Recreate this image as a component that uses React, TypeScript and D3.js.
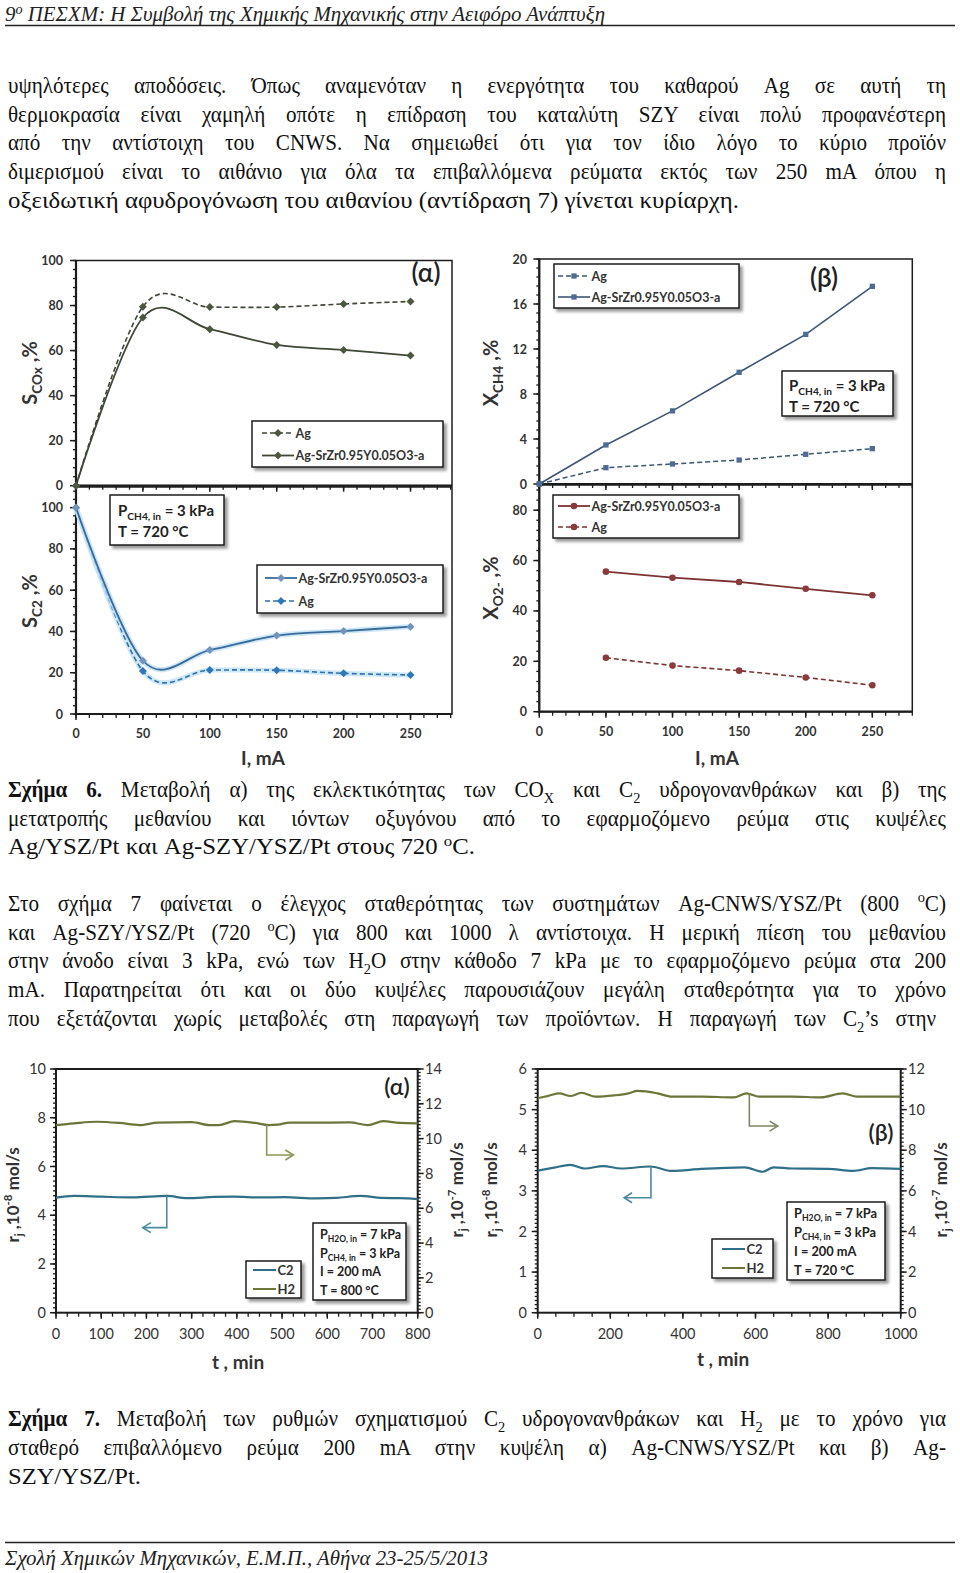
import React, { useEffect, useRef } from 'react';
import * as d3 from 'd3';

const SERIF = '"Liberation Serif", "Times New Roman", Times, serif';
const SANS = 'Lato, "Noto Sans", "Open Sans", sans-serif';
const INK = '#1c1c1c';
const SX = 0.92; // horizontal condensing of the body text
const BODY_FS = 23;

/* ---------------- Figure 6 data ---------------- */
const currents = [0, 50, 100, 150, 200, 250];
const sCOxAg = [0, 79.5, 79.3, 79.3, 80.7, 81.8];
const sCOxSZY = [0, 74.7, 69.5, 62.5, 60.3, 57.8];
const sC2SZY = [100, 25.8, 31.0, 38.0, 40.2, 42.3];
const sC2Ag = [100, 20.8, 21.3, 21.2, 19.7, 18.9];
const xCH4Ag = [0, 1.45, 1.78, 2.13, 2.64, 3.14];
const xCH4SZY = [0, 3.47, 6.5, 9.93, 13.3, 17.57];
const currentsO2 = [50, 100, 150, 200, 250];
const xO2SZY = [55.6, 53.2, 51.5, 48.8, 46.2];
const xO2Ag = [21.4, 18.3, 16.3, 13.6, 10.5];

const currentTicks = [0, 50, 100, 150, 200, 250];
const sTicks = [0, 20, 40, 60, 80, 100];
const xCH4Ticks = [0, 4, 8, 12, 16, 20];
const xO2Ticks = [0, 20, 40, 60, 80];

/* ---------------- Figure 7 data ---------------- */
const tA_H2 = [0, 40, 90, 140, 185, 225, 300, 340, 360, 395, 440, 470, 490, 517, 580, 650, 690, 724, 760, 800];
const h2A = [10.78, 10.88, 10.97, 10.9, 10.78, 10.92, 10.95, 10.78, 10.78, 11.0, 10.9, 10.78, 10.8, 10.92, 10.92, 10.93, 10.78, 11.0, 10.9, 10.88];
const tA_C2 = [0, 40, 100, 170, 245, 290, 350, 395, 450, 505, 577, 620, 673, 720, 760, 800];
const c2A = [4.72, 4.79, 4.76, 4.73, 4.79, 4.7, 4.75, 4.76, 4.73, 4.74, 4.69, 4.71, 4.79, 4.71, 4.7, 4.66];

const tB_H2 = [0, 30, 60, 90, 120, 160, 210, 250, 275, 330, 370, 450, 540, 575, 610, 700, 780, 840, 880, 940, 1000];
const h2B = [10.56, 10.68, 10.8, 10.67, 10.83, 10.64, 10.7, 10.8, 10.92, 10.8, 10.64, 10.64, 10.6, 10.8, 10.64, 10.64, 10.6, 10.8, 10.64, 10.64, 10.64];
const tB_C2 = [0, 45, 90, 130, 180, 230, 310, 370, 450, 570, 620, 650, 700, 800, 870, 920, 1000];
const c2B = [3.5, 3.57, 3.64, 3.55, 3.61, 3.55, 3.6, 3.49, 3.54, 3.58, 3.47, 3.58, 3.55, 3.54, 3.49, 3.56, 3.54];

const tTicksA = [0, 100, 200, 300, 400, 500, 600, 700, 800];
const rTicksA = [0, 2, 4, 6, 8, 10];
const rRightTicksA = [0, 2, 4, 6, 8, 10, 12, 14];
const tTicksB = [0, 200, 400, 600, 800, 1000];
const rTicksB = [0, 1, 2, 3, 4, 5, 6];
const rRightTicksB = [0, 2, 4, 6, 8, 10, 12];

// arrow markers (t, start value, bend value, end t)
const arrowsA = { h2: [466, 10.78, 9.06, 525], c2: [245, 4.79, 3.49, 192] };
const arrowsB = { h2: [583, 10.8, 9.19, 661], c2: [312, 3.6, 2.83, 238] };

/* ---------------- Document text ---------------- */
type Part = [string, string?];
type TLine = { parts: Part[]; justify?: boolean; width?: number };

const para1: TLine[] = [
  { parts: [['υψηλότερες αποδόσεις. Όπως αναμενόταν η ενεργότητα του καθαρού Ag σε αυτή τη']], justify: true },
  { parts: [['θερμοκρασία είναι χαμηλή οπότε η επίδραση του καταλύτη SZY είναι πολύ προφανέστερη']], justify: true },
  { parts: [['από την αντίστοιχη του CNWS. Να σημειωθεί ότι για τον ίδιο λόγο το κύριο προϊόν']], justify: true },
  { parts: [['διμερισμού είναι το αιθάνιο για όλα τα επιβαλλόμενα ρεύματα εκτός των 250 mA όπου η']], justify: true },
  { parts: [['οξειδωτική αφυδρογόνωση του αιθανίου (αντίδραση 7) γίνεται κυρίαρχη.']], width: 731 },
];
const caption6: TLine[] = [
  { parts: [['Σχήμα 6.', 'bold'], [' Μεταβολή α) της εκλεκτικότητας των CO'], ['X', 'sub'], [' και C'], ['2', 'sub'], [' υδρογονανθράκων και β) της']], justify: true },
  { parts: [['μετατροπής μεθανίου και ιόντων οξυγόνου από το εφαρμοζόμενο ρεύμα στις κυψέλες']], justify: true },
  { parts: [['Ag/YSZ/Pt και Ag-SZY/YSZ/Pt στους 720 '], ['o', 'sup'], ['C.']], width: 467 },
];
const para2: TLine[] = [
  { parts: [['Στο σχήμα 7 φαίνεται ο έλεγχος σταθερότητας των συστημάτων Ag-CNWS/YSZ/Pt (800 '], ['o', 'sup'], ['C)']], justify: true },
  { parts: [['και Ag-SZY/YSZ/Pt (720 '], ['o', 'sup'], ['C) για 800 και 1000 λ αντίστοιχα. Η μερική πίεση του μεθανίου']], justify: true },
  { parts: [['στην άνοδο είναι 3 kPa, ενώ των H'], ['2', 'sub'], ['O στην κάθοδο 7 kPa με το εφαρμοζόμενο ρεύμα στα 200']], justify: true },
  { parts: [['mA. Παρατηρείται ότι και οι δύο κυψέλες παρουσιάζουν μεγάλη σταθερότητα για το χρόνο']], justify: true },
  { parts: [['που εξετάζονται χωρίς μεταβολές στη παραγωγή των προϊόντων. Η παραγωγή των C'], ['2', 'sub'], ['’s στην']], justify: true, width: 928 },
];
const caption7: TLine[] = [
  { parts: [['Σχήμα 7.', 'bold'], [' Μεταβολή των ρυθμών σχηματισμού C'], ['2', 'sub'], [' υδρογονανθράκων και H'], ['2', 'sub'], [' με το χρόνο για']], justify: true },
  { parts: [['σταθερό επιβαλλόμενο ρεύμα 200 mA στην κυψέλη α) Ag-CNWS/YSZ/Pt και β) Ag-']], justify: true },
  { parts: [['SZY/YSZ/Pt.']], width: 133 },
];

/* ---------------- helpers ---------------- */
function rich(parent: any, x: number, y: number, parts: Part[], fs: number, attrs: Record<string, any> = {}, supK = 0.38) {
  const t = parent.append('text').attr('x', x).attr('y', y).attr('font-size', fs);
  Object.entries(attrs).forEach(([k, v]) => t.attr(k, v));
  let shift = 0;
  parts.forEach(([s, m]) => {
    const ts = t.append('tspan').text(s);
    let target = 0;
    if (m === 'sub') target = fs * 0.25;
    if (m === 'sup') target = -fs * supK;
    if (target !== shift) { ts.attr('dy', target - shift); shift = target; }
    if (m === 'sub' || m === 'sup') ts.attr('font-size', fs * 0.68);
    if (m === 'bold') ts.attr('font-weight', 700);
  });
  return t;
}

function justify(t: any, width: number) {
  const node = t.node() as SVGTextElement;
  const w = node.getComputedTextLength();
  const n = (node.textContent || '').trim().split(/\s+/).length - 1;
  if (w < width && n > 0) t.style('word-spacing', `${(width - w) / n}px`);
  else t.attr('textLength', width).attr('lengthAdjust', 'spacingAndGlyphs');
}
function fit(t: any, width: number) {
  t.attr('textLength', width).attr('lengthAdjust', 'spacingAndGlyphs');
}

function block(svg: any, lines: TLine[], y0: number, step: number) {
  const g = svg.append('g').attr('transform', `scale(${SX},1)`);
  lines.forEach((ln, i) => {
    const t = rich(g, 8 / SX, y0 + i * step, ln.parts, BODY_FS, { 'font-family': SERIF, fill: '#111' });
    if (ln.justify) justify(t, (ln.width ?? 938) / SX);
    else if (ln.width) fit(t, ln.width / SX);
  });
}

function ticksV(g: any, ys: any, x: number, majors: number[], minorStep: number, dir: number) {
  const [d0, d1] = ys.domain();
  const minor = d3.range(d0, d1 + minorStep / 2, minorStep);
  g.append('g').selectAll('line').data(minor).join('line')
    .attr('x1', x).attr('x2', x + dir * 3).attr('y1', (d: number) => ys(d)).attr('y2', (d: number) => ys(d))
    .attr('stroke', INK).attr('stroke-width', 1.3);
  g.append('g').selectAll('line').data(majors).join('line')
    .attr('x1', x).attr('x2', x + dir * 6).attr('y1', (d: number) => ys(d)).attr('y2', (d: number) => ys(d))
    .attr('stroke', INK).attr('stroke-width', 1.5);
}
function ticksH(g: any, xs: any, y: number, majors: number[], minorStep: number, dir: number) {
  const [d0, d1] = xs.domain();
  const minor = d3.range(d0, d1 + minorStep / 2, minorStep);
  g.append('g').selectAll('line').data(minor).join('line')
    .attr('y1', y).attr('y2', y + dir * 4).attr('x1', (d: number) => xs(d)).attr('x2', (d: number) => xs(d))
    .attr('stroke', INK).attr('stroke-width', 1.3);
  g.append('g').selectAll('line').data(majors).join('line')
    .attr('y1', y).attr('y2', y + dir * 6).attr('x1', (d: number) => xs(d)).attr('x2', (d: number) => xs(d))
    .attr('stroke', INK).attr('stroke-width', 1.5);
}
function labelsV(g: any, ys: any, x: number, values: number[], anchor: string, fs: number, weight: number) {
  g.append('g').selectAll('text').data(values).join('text')
    .attr('x', x).attr('y', (d: number) => ys(d)).attr('dy', '0.36em').attr('text-anchor', anchor)
    .attr('font-size', fs).attr('font-weight', weight).attr('fill', '#333').text((d: number) => d);
}
function labelsH(g: any, xs: any, y: number, values: number[], fs: number, weight: number) {
  g.append('g').selectAll('text').data(values).join('text')
    .attr('x', (d: number) => xs(d)).attr('y', y).attr('text-anchor', 'middle')
    .attr('font-size', fs).attr('font-weight', weight).attr('fill', '#333').text((d: number) => d);
}

function panel(g: any, xs: any, ys: any, yMaj: number[], yMinStep: number, xMaj: number[], xMinStep: number,
  xLabY: number | null, yLabX: number, fs = 12.5, weight = 700) {
  const [x0, x1] = xs.range();
  const [yb, yt] = ys.range();
  g.append('rect').attr('x', x0).attr('y', yt).attr('width', x1 - x0).attr('height', yb - yt)
    .attr('fill', 'none').attr('stroke', INK).attr('stroke-width', 1.5);
  g.append('line').attr('x1', x0).attr('x2', x0).attr('y1', yt).attr('y2', yb).attr('stroke', INK).attr('stroke-width', 2.2);
  g.append('line').attr('x1', x0).attr('x2', x1).attr('y1', yb).attr('y2', yb).attr('stroke', INK).attr('stroke-width', 2.2);
  ticksV(g, ys, x0, yMaj, yMinStep, -1);
  ticksH(g, xs, yb, xMaj, xMinStep, 1);
  labelsV(g, ys, yLabX, yMaj, 'end', fs, weight);
  if (xLabY != null) labelsH(g, xs, xLabY, xMaj, fs, weight);
}

interface SOpt { color: string; width?: number; dash?: string; curve?: any; sym?: any; size?: number; mfill?: string; rot?: number; halo?: string }

function series(g: any, xs: any, ys: any, xv: number[], yv: number[], o: SOpt) {
  const pts: [number, number][] = xv.map((x, i) => [x, yv[i]]);
  const line = d3.line<[number, number]>().x(d => xs(d[0])).y(d => ys(d[1])).curve(o.curve || d3.curveLinear);
  if (o.halo) g.append('path').attr('d', line(pts)).attr('fill', 'none').attr('stroke', o.halo)
    .attr('stroke-width', (o.width || 1.5) + 3.5).attr('stroke-linejoin', 'round').attr('opacity', 0.8);
  g.append('path').attr('d', line(pts)).attr('fill', 'none').attr('stroke', o.color)
    .attr('stroke-width', o.width || 1.5).attr('stroke-dasharray', o.dash || null).attr('stroke-linejoin', 'round');
  if (o.sym) g.append('g').selectAll('path').data(pts).join('path')
    .attr('d', d3.symbol(o.sym, o.size || 30)() as string)
    .attr('transform', (d: [number, number]) => `translate(${xs(d[0])},${ys(d[1])}) rotate(${o.rot || 0})`)
    .attr('fill', o.mfill || o.color);
}

function box(g: any, x: number, y: number, w: number, h: number) {
  g.append('rect').attr('x', x).attr('y', y).attr('width', w).attr('height', h)
    .attr('fill', '#fff').attr('stroke', INK).attr('stroke-width', 1.5).attr('filter', 'url(#shadow)');
}
function legendEntry(g: any, x1: number, x2: number, y: number, label: string, o: SOpt, fs = 12.5) {
  g.append('line').attr('x1', x1).attr('x2', x2).attr('y1', y).attr('y2', y).attr('stroke', o.color)
    .attr('stroke-width', o.width || 1.5).attr('stroke-dasharray', o.dash || null);
  if (o.sym) g.append('path').attr('d', d3.symbol(o.sym, o.size || 30)() as string)
    .attr('transform', `translate(${(x1 + x2) / 2},${y}) rotate(${o.rot || 0})`).attr('fill', o.mfill || o.color);
  g.append('text').attr('x', x2 + 1.5).attr('y', y).attr('dy', '0.36em').attr('font-size', fs)
    .attr('font-weight', 700).attr('fill', '#333').text(label);
}
function vTitle(g: any, cx: number, cy: number, parts: Part[], fs: number) {
  const gg = g.append('g').attr('transform', `translate(${cx + fs * 0.35},${cy}) rotate(-90)`);
  rich(gg, 0, 0, parts, fs, { 'text-anchor': 'middle', 'font-weight': 700, fill: '#333' });
}

/* ---------------- Figure 6 ---------------- */
function drawFig6(svg: any) {
  const g = svg.append('g').attr('font-family', SANS);
  const xL = d3.scaleLinear().domain([0, 281]).range([76, 452]);
  const yA = d3.scaleLinear().domain([0, 100]).range([485.7, 260.5]);
  const yB = d3.scaleLinear().domain([0, 110]).range([714, 487]);
  const xR = d3.scaleLinear().domain([0, 280]).range([539.3, 912.3]);
  const yC = d3.scaleLinear().domain([0, 20]).range([484, 259]);
  const yD = d3.scaleLinear().domain([0, 90]).range([711.7, 485]);

  panel(g, xL, yA, sTicks, 4, currentTicks, 10, null, 63);
  panel(g, xL, yB, sTicks, 4, currentTicks, 10, 738, 63);
  panel(g, xR, yC, xCH4Ticks, 0.8, currentTicks, 10, null, 527);
  panel(g, xR, yD, xO2Ticks, 4, currentTicks, 10, 736, 527);

  const smooth = d3.curveCatmullRom.alpha(0);
  const oliveAg: SOpt = { color: '#3e4736', width: 1.6, dash: '5,3', curve: smooth, sym: d3.symbolSquare, size: 32, rot: 45, mfill: '#4b5740' };
  const oliveS: SOpt = { color: '#3e4736', width: 1.8, curve: smooth, sym: d3.symbolSquare, size: 32, rot: 45, mfill: '#4b5740' };
  series(g, xL, yA, currents, sCOxAg, oliveAg);
  series(g, xL, yA, currents, sCOxSZY, oliveS);

  const blueS: SOpt = { color: '#3a6a99', width: 1.8, curve: smooth, sym: d3.symbolSquare, size: 32, rot: 45, mfill: '#7393bd', halo: '#c2e2f5' };
  const blueAg: SOpt = { color: '#2f70ad', width: 1.6, dash: '5,3', curve: smooth, sym: d3.symbolSquare, size: 32, rot: 45, mfill: '#2e77b8', halo: '#c2e2f5' };
  series(g, xL, yB, currents, sC2Ag, blueAg);
  series(g, xL, yB, currents, sC2SZY, blueS);

  const slateAg: SOpt = { color: '#3d5677', width: 1.5, dash: '5,3', sym: d3.symbolSquare, size: 28, mfill: '#4f6b91' };
  const slateS: SOpt = { color: '#3d5677', width: 1.6, sym: d3.symbolSquare, size: 28, mfill: '#4f6b91' };
  series(g, xR, yC, currents, xCH4Ag, slateAg);
  series(g, xR, yC, currents, xCH4SZY, slateS);

  const redS: SOpt = { color: '#7d3232', width: 1.8, sym: d3.symbolCircle, size: 34, mfill: '#8a3a3a' };
  const redAg: SOpt = { color: '#7d3232', width: 1.6, dash: '5,3', sym: d3.symbolCircle, size: 34, mfill: '#8a3a3a' };
  series(g, xR, yD, currentsO2, xO2SZY, redS);
  series(g, xR, yD, currentsO2, xO2Ag, redAg);

  // legends
  box(g, 252, 421, 191, 46);
  legendEntry(g, 262, 294, 433, 'Ag', oliveAg);
  legendEntry(g, 262, 294, 455.5, 'Ag-SrZr0.95Y0.05O3-a', oliveS);

  box(g, 257, 565, 186, 48);
  legendEntry(g, 265, 297, 578, 'Ag-SrZr0.95Y0.05O3-a', blueS);
  legendEntry(g, 265, 297, 601, 'Ag', blueAg);

  box(g, 554, 264, 185, 44);
  legendEntry(g, 558, 590, 276, 'Ag', slateAg);
  legendEntry(g, 558, 590, 297, 'Ag-SrZr0.95Y0.05O3-a', slateS);

  box(g, 553, 495, 186, 43);
  legendEntry(g, 558, 590, 506, 'Ag-SrZr0.95Y0.05O3-a', redS);
  legendEntry(g, 558, 590, 527, 'Ag', redAg);

  // condition boxes
  box(g, 110, 495, 114, 50);
  rich(g, 118, 516, [['P'], ['CH4, in', 'sub'], [' = 3 kPa']], 15, { 'font-weight': 700, fill: '#222' });
  rich(g, 118, 537, [['T = 720 °C']], 15, { 'font-weight': 700, fill: '#222' });
  box(g, 782, 371, 111, 45);
  rich(g, 789, 391, [['P'], ['CH4, in', 'sub'], [' = 3 kPa']], 15, { 'font-weight': 700, fill: '#222' });
  rich(g, 789, 411.5, [['T = 720 °C']], 15, { 'font-weight': 700, fill: '#222' });

  // panel labels
  g.append('text').attr('x', 426).attr('y', 282).attr('text-anchor', 'middle').attr('font-size', 26).attr('font-weight', 600).attr('fill', '#222').text('(α)');
  g.append('text').attr('x', 824).attr('y', 287).attr('text-anchor', 'middle').attr('font-size', 26).attr('font-weight', 600).attr('fill', '#222').text('(β)');

  // axis titles
  vTitle(g, 30, 373, [['S'], ['COx', 'sub'], [' ,%']], 20);
  vTitle(g, 30, 601, [['S'], ['C2', 'sub'], [' ,%']], 20);
  vTitle(g, 491, 373, [['X'], ['CH4', 'sub'], [' ,%']], 20);
  vTitle(g, 491, 588, [['X'], ['O2-', 'sub'], [' ,%']], 20);
  g.append('text').attr('x', 263).attr('y', 765).attr('text-anchor', 'middle').attr('font-size', 19).attr('font-weight', 700).attr('fill', '#333').text('I, mA');
  g.append('text').attr('x', 717).attr('y', 765).attr('text-anchor', 'middle').attr('font-size', 19).attr('font-weight', 700).attr('fill', '#333').text('I, mA');
}

/* ---------------- Figure 7 ---------------- */
function arrow(g: any, xs: any, ys: any, a: number[], color: string) {
  const [t0, v0, v1, t1] = a;
  const x = xs(t0), y1 = ys(v0), y2 = ys(v1), x2 = xs(t1);
  const dir = Math.sign(x2 - x);
  g.append('path').attr('d', `M${x},${y1}V${y2}H${x2}`).attr('fill', 'none').attr('stroke', color).attr('stroke-width', 1.6);
  g.append('path').attr('d', `M${x2 - dir * 8},${y2 - 5}L${x2},${y2}L${x2 - dir * 8},${y2 + 5}`)
    .attr('fill', 'none').attr('stroke', color).attr('stroke-width', 1.6);
}

function fig7Panel(g: any, xs: any, yl: any, yr: any, tMaj: number[], tMin: number, lMaj: number[], lMin: number, rMaj: number[], rMin: number,
  labL: number, labR: number, labY: number) {
  const [x0, x1] = xs.range();
  const [yb, yt] = yl.range();
  g.append('rect').attr('x', x0).attr('y', yt).attr('width', x1 - x0).attr('height', yb - yt)
    .attr('fill', 'none').attr('stroke', INK).attr('stroke-width', 2);
  ticksV(g, yl, x0, lMaj, lMin, -1);
  ticksV(g, yr, x1, rMaj, rMin, 1);
  ticksH(g, xs, yb, tMaj, tMin, 1);
  labelsV(g, yl, labL, lMaj, 'end', 14.5, 400);
  labelsV(g, yr, labR, rMaj, 'start', 14.5, 400);
  labelsH(g, xs, labY, tMaj, 14.5, 400);
}

function drawFig7(svg: any) {
  const g = svg.append('g').attr('font-family', SANS);
  const c2c = '#2f7088', h2c = '#6b763a';
  // (α)
  const xA = d3.scaleLinear().domain([0, 800]).range([56, 417.7]);
  const yAL = d3.scaleLinear().domain([0, 10]).range([1312.7, 1069]);
  const yAR = d3.scaleLinear().domain([0, 14]).range([1312.7, 1069]);
  fig7Panel(g, xA, yAL, yAR, tTicksA, 25, rTicksA, 0.2, rRightTicksA, 0.2, 46, 425, 1339);
  series(g, xA, yAR, tA_H2, h2A, { color: h2c, width: 2.2, curve: d3.curveMonotoneX });
  series(g, xA, yAL, tA_C2, c2A, { color: c2c, width: 2.2, curve: d3.curveMonotoneX });
  arrow(g, xA, yAR, arrowsA.h2, '#8d9556');
  arrow(g, xA, yAL, arrowsA.c2, '#4b8a9f');

  box(g, 246, 1261, 55, 37);
  legendEntry(g, 253, 276, 1270, 'C2', { color: c2c, width: 2 }, 13);
  legendEntry(g, 253, 276, 1289, 'H2', { color: h2c, width: 2 }, 13);
  box(g, 313, 1223, 93, 77);
  const condA: Part[][] = [
    [['P'], ['H2O, in', 'sub'], [' = 7 kPa']],
    [['P'], ['CH4, in', 'sub'], [' = 3 kPa']],
    [['I = 200 mA']],
    [['T = 800 °C']],
  ];
  condA.forEach((p, i) => rich(g, 320, 1239 + i * 18.6, p, 12.5, { 'font-weight': 700, fill: '#222' }));
  g.append('text').attr('x', 397).attr('y', 1095).attr('text-anchor', 'middle').attr('font-size', 23).attr('font-weight', 600).attr('fill', '#222').text('(α)');
  vTitle(g, 13, 1195, [['r'], ['j', 'sub'], [' ,10'], ['-8', 'sup'], [' mol/s']], 17);
  vTitle(g, 457, 1190, [['r'], ['j', 'sub'], [' ,10'], ['-7', 'sup'], [' mol/s']], 17);
  g.append('text').attr('x', 238).attr('y', 1369).attr('text-anchor', 'middle').attr('font-size', 19).attr('font-weight', 700).attr('fill', '#333').text('t , min');

  // (β)
  const xB = d3.scaleLinear().domain([0, 1000]).range([537.7, 900.7]);
  const yBL = d3.scaleLinear().domain([0, 6]).range([1312.7, 1069]);
  const yBR = d3.scaleLinear().domain([0, 12]).range([1312.7, 1069]);
  fig7Panel(g, xB, yBL, yBR, tTicksB, 50, rTicksB, 0.1, rRightTicksB, 0.2, 527, 908, 1339);
  series(g, xB, yBR, tB_H2, h2B, { color: h2c, width: 2.2, curve: d3.curveMonotoneX });
  series(g, xB, yBL, tB_C2, c2B, { color: c2c, width: 2.2, curve: d3.curveMonotoneX });
  arrow(g, xB, yBR, arrowsB.h2, '#7d8660');
  arrow(g, xB, yBL, arrowsB.c2, '#4b8a9f');

  box(g, 712, 1239, 61, 39);
  legendEntry(g, 722, 745, 1249, 'C2', { color: c2c, width: 2 }, 13);
  legendEntry(g, 722, 745, 1268, 'H2', { color: h2c, width: 2 }, 13);
  box(g, 787, 1202, 98, 78);
  const condB: Part[][] = [
    [['P'], ['H2O, in', 'sub'], [' = 7 kPa']],
    [['P'], ['CH4, in', 'sub'], [' = 3 kPa']],
    [['I = 200 mA']],
    [['T = 720 °C']],
  ];
  condB.forEach((p, i) => rich(g, 794, 1217.5 + i * 19, p, 12.8, { 'font-weight': 700, fill: '#222' }));
  g.append('text').attr('x', 881).attr('y', 1141).attr('text-anchor', 'middle').attr('font-size', 23).attr('font-weight', 600).attr('fill', '#222').text('(β)');
  vTitle(g, 491, 1190, [['r'], ['j', 'sub'], [' ,10'], ['-8', 'sup'], [' mol/s']], 17);
  vTitle(g, 941, 1190, [['r'], ['j', 'sub'], [' ,10'], ['-7', 'sup'], [' mol/s']], 17);
  g.append('text').attr('x', 723).attr('y', 1366).attr('text-anchor', 'middle').attr('font-size', 19).attr('font-weight', 700).attr('fill', '#333').text('t , min');
}

/* ---------------- Document ---------------- */
function drawDocument(svg: any) {
  const header = rich(svg, 5, 20.5, [['9'], ['ο', 'sup'], [' ΠΕΣΧΜ: Η Συμβολή της Χημικής Μηχανικής στην Αειφόρο Ανάπτυξη']], 21,
    { 'font-family': SERIF, 'font-style': 'italic', fill: '#222' }, 0.3);
  fit(header, 600);
  svg.append('line').attr('x1', 5).attr('x2', 955).attr('y1', 25.5).attr('y2', 25.5).attr('stroke', '#222').attr('stroke-width', 1.5);

  block(svg, para1, 93, 28.7);
  block(svg, caption6, 797.5, 28.5);
  block(svg, para2, 911, 28.7);
  block(svg, caption7, 1426.5, 28.7);

  svg.append('line').attr('x1', 5).attr('x2', 955).attr('y1', 1542.5).attr('y2', 1542.5).attr('stroke', '#222').attr('stroke-width', 1.5);
  const footer = rich(svg, 5, 1565, [['Σχολή Χημικών Μηχανικών, Ε.Μ.Π., Αθήνα 23-25/5/2013']], 21,
    { 'font-family': SERIF, 'font-style': 'italic', fill: '#222' });
  fit(footer, 483);
}

function draw(el: SVGSVGElement) {
  const svg = d3.select(el);
  svg.selectAll('*').remove();
  svg.append('rect').attr('width', 960).attr('height', 1573).attr('fill', '#fff');
  const defs = svg.append('defs');
  const f = defs.append('filter').attr('id', 'shadow').attr('x', '-10%').attr('y', '-10%').attr('width', '130%').attr('height', '140%');
  f.append('feDropShadow').attr('dx', 3).attr('dy', 3).attr('stdDeviation', 1.8).attr('flood-color', '#000').attr('flood-opacity', 0.4);
  drawDocument(svg);
  drawFig6(svg);
  drawFig7(svg);
}

export default function App() {
  const ref = useRef<SVGSVGElement>(null);
  useEffect(() => {
    if (ref.current) draw(ref.current);
  }, []);
  return (
    <svg ref={ref} width={960} height={1573} style={{ position: 'absolute', left: 0, top: 0, background: '#fff' }} />
  );
}
